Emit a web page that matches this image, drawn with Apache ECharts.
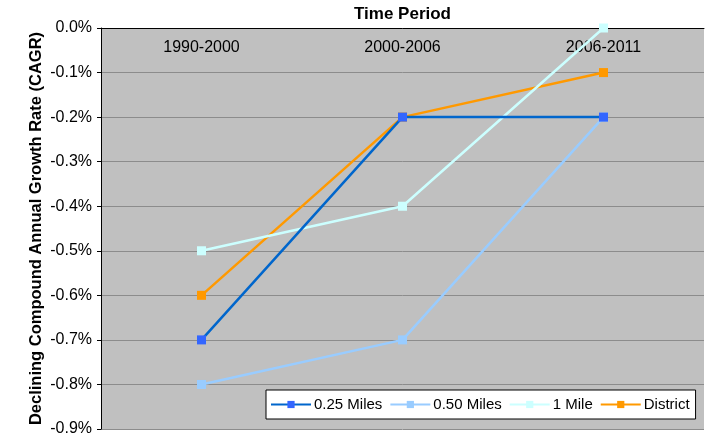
<!DOCTYPE html>
<html><head><meta charset="utf-8">
<script src="https://cdn.jsdelivr.net/npm/echarts@6/dist/echarts.min.js"></script>
<style>html,body{margin:0;padding:0;background:#fff}#c{width:710px;height:436px}</style>
</head><body><div id="c"></div>
<script>
var categories = ['1990-2000', '2000-2006', '2006-2011'];
var miles025 = [-0.7, -0.2, -0.2];
var miles050 = [-0.8, -0.7, -0.2];
var mile1 = [-0.5, -0.4, 0.0];
var district = [-0.6, -0.2, -0.1];
var seriesNames = ['0.25 Miles', '0.50 Miles', '1 Mile', 'District'];
var lineColors = ['#0066CC', '#99CCFF', '#CCFFFF', '#FF9900'];
var markerColors = ['#3366FF', '#99CCFF', '#CCFFFF', '#FF9900'];
var seriesData = [miles025, miles050, mile1, district];

var font = 'Arial, "Liberation Sans", sans-serif';
var chart = echarts.init(document.getElementById('c'));
chart.setOption({
  animation: false,
  backgroundColor: '#ffffff',
  grid: { left: 101, right: 6, top: 28, bottom: 7, show: true, backgroundColor: '#C0C0C0', borderWidth: 0,
    containLabel: false, outerBoundsMode: 'none' },
  xAxis: {
    type: 'category', position: 'top', data: categories, boundaryGap: true,
    name: 'Time Period', nameLocation: 'middle', nameGap: 1,
    nameTextStyle: { fontFamily: font, fontSize: 17, fontWeight: 'bold', color: '#000' },
    axisLine: { lineStyle: { color: '#000', width: 1 } },
    axisTick: { inside: true, length: 4, lineStyle: { color: '#000' } },
    axisLabel: { inside: true, margin: 12, fontFamily: font, fontSize: 16, color: '#000' },
    splitLine: { show: false }
  },
  yAxis: {
    type: 'value', min: -0.9, max: 0, interval: 0.1,
    name: 'Declining Compound Annual Growth Rate (CAGR)', nameLocation: 'middle', nameRotate: 90, nameGap: 56,
    nameMoveOverlap: false,
    nameTextStyle: { fontFamily: font, fontSize: 16.5, fontWeight: 'bold', color: '#000' },
    axisLine: { show: true, lineStyle: { color: '#000', width: 1 } },
    axisTick: { show: true, length: 4, lineStyle: { color: '#000' } },
    axisLabel: { fontFamily: font, fontSize: 16, color: '#000', margin: 9,
      formatter: function (v) { var s = (Math.round(v * 10) / 10).toFixed(1); if (s === '-0.0') s = '0.0'; return s + '%'; } },
    splitLine: { show: true, lineStyle: { color: '#8C8C8C', width: 1 } }
  },
  legend: {
    left: 266, top: 390, width: 431, height: 32,
    backgroundColor: '#ffffff', borderColor: '#000', borderWidth: 1,
    padding: [7, 6, 7, 4], itemGap: 7, itemWidth: 40, itemHeight: 9,
    textStyle: { fontFamily: font, fontSize: 15, color: '#000', padding: [0, 0, 0, -2] },
    data: seriesNames
  },
  series: seriesData.map(function (d, i) {
    return {
      name: seriesNames[i], type: 'line', data: d,
      symbol: 'rect', symbolSize: 9,
      lineStyle: { color: lineColors[i], width: 2.5 },
      itemStyle: { color: markerColors[i], borderWidth: 0 },
      z: 10 - i
    };
  })
});
</script></body></html>
